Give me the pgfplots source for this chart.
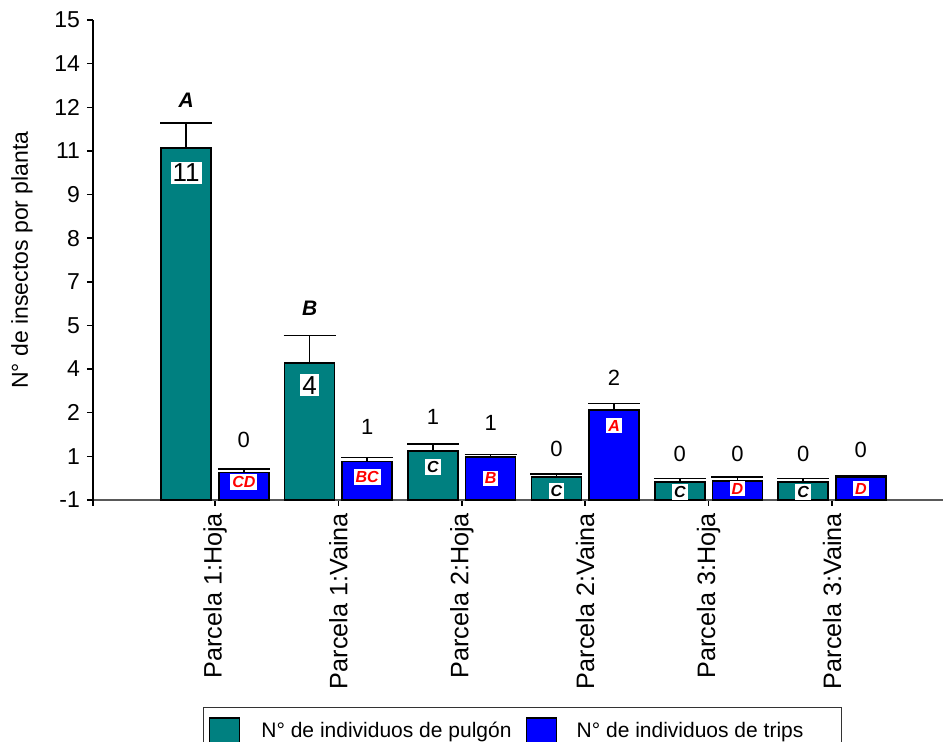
\documentclass[border=0pt]{standalone}
\usepackage{fontspec}
\setmainfont{Liberation Sans}
\usepackage{pgfplots}
\usepackage{pgfplotstable}
\pgfplotsset{compat=1.18}
\definecolor{tealbar}{RGB}{0,128,128}
\definecolor{bluebar}{RGB}{0,0,255}
\definecolor{redlet}{RGB}{255,0,0}

\pgfplotstableread{
x teal tealerr blue blueerr
0 10.74 0.82 -0.09 0.12
1 3.56 0.92 0.28 0.14
2 0.64 0.22 0.44 0.07
3 -0.24 0.11 2.00 0.21
4 -0.40 0.11 -0.37 0.13
5 -0.40 0.11 -0.23 0.05
}\datatable

\begin{document}
\begin{tikzpicture}
\begin{axis}[
  scale only axis, width=425pt, height=240pt,
  at={(0pt,0pt)}, anchor=south west,
  xmin=-0.9887, xmax=5.899, ymin=0, ymax=16,
  enlargelimits=false, clip=false,
  axis x line*=bottom, axis y line*=left,
  x axis line style={draw=black!65, line width=1pt},
  y axis line style={draw=black, line width=1pt, shorten <=-3pt},
  xtick={0,1,2,3,4,5},
  xticklabels={Parcela 1:Hoja, Parcela 1:Vaina, Parcela 2:Hoja, Parcela 2:Vaina, Parcela 3:Hoja, Parcela 3:Vaina},
  xticklabel style={rotate=90, anchor=east, font=\fontsize{12.6}{14}\selectfont},
  ytick={0,1.4545,2.9091,4.3636,5.8182,7.2727,8.7273,10.1818,11.6364,13.0909,14.5455,16},
  yticklabels={-1,1,2,4,5,7,8,9,11,12,14,15},
  yticklabel style={font=\fontsize{11.5}{13}\selectfont},
  tick align=outside, major tick length=3pt,
  tick style={black, line width=0.75pt},
  ylabel={N° de insectos por planta},
  ylabel style={at={(axis description cs:-0.0835,0.5)}, anchor=center, font=\fontsize{11.5}{13}\selectfont},
  ybar, bar width=25pt,
  legend columns=2,
  legend style={at={(0.129,-0.431)}, anchor=north west, draw=black!80, line width=0.6pt,
    font=\fontsize{10.5}{12}\selectfont, inner xsep=3pt, inner ysep=5pt,
    /tikz/every even column/.append style={column sep=5pt}},
  legend image code/.code={\draw[#1, line width=0.6pt] (0pt,-6.75pt) rectangle (15pt,6.75pt);},
  legend cell align=left,
]
\addplot[fill=tealbar, draw=black, line width=0.75pt, bar shift=-14.4pt,
  error bars/.cd, y dir=plus, y explicit,
  error bar style={black, line width=0.75pt},
  error mark options={rotate=90, black, line width=0.75pt, mark size=13pt}]
  table[x=x, y expr=\thisrow{teal}+1, y error=tealerr]{\datatable};
\addlegendentry{\hspace{8.5pt}N° de individuos de pulgón}
\addplot[fill=bluebar, draw=black, line width=0.75pt, bar shift=14.4pt,
  error bars/.cd, y dir=plus, y explicit,
  error bar style={black, line width=0.75pt},
  error mark options={rotate=90, black, line width=0.75pt, mark size=13pt}]
  table[x=x, y expr=\thisrow{blue}+1, y error=blueerr]{\datatable};
\addlegendentry{\hspace{8pt}N° de individuos de trips\rule{14pt}{0pt}}

% letters above teal bars / numbers inside
\node[font=\fontsize{10.5}{12}\selectfont\bfseries\itshape] at (axis cs:0,13.33) [xshift=-14.4pt] {A};
\node[font=\fontsize{13}{14}\selectfont, fill=white, inner sep=1pt] at (axis cs:0,10.9) [xshift=-14.4pt] {11};
\node[font=\fontsize{10.5}{12}\selectfont\bfseries\itshape] at (axis cs:1,6.4) [xshift=-14.4pt] {B};
\node[font=\fontsize{13}{14}\selectfont, fill=white, inner sep=1pt] at (axis cs:1,3.83) [xshift=-14.4pt] {4};
% numbers above
\node[font=\fontsize{11}{12}\selectfont] at (axis cs:0,2.0) [xshift=14.4pt] {0};
\node[font=\fontsize{11}{12}\selectfont] at (axis cs:1,2.43) [xshift=14.4pt] {1};
\node[font=\fontsize{11}{12}\selectfont] at (axis cs:2,2.77) [xshift=-14.4pt] {1};
\node[font=\fontsize{11}{12}\selectfont] at (axis cs:2,2.57) [xshift=14.4pt] {1};
\node[font=\fontsize{11}{12}\selectfont] at (axis cs:3,1.7) [xshift=-14.4pt] {0};
\node[font=\fontsize{11}{12}\selectfont] at (axis cs:3,4.07) [xshift=14.4pt] {2};
\node[font=\fontsize{11}{12}\selectfont] at (axis cs:4,1.53) [xshift=-14.4pt] {0};
\node[font=\fontsize{11}{12}\selectfont] at (axis cs:4,1.53) [xshift=14.4pt] {0};
\node[font=\fontsize{11}{12}\selectfont] at (axis cs:5,1.53) [xshift=-14.4pt] {0};
\node[font=\fontsize{11}{12}\selectfont] at (axis cs:5,1.67) [xshift=14.4pt] {0};
% letters inside bars
\node[font=\fontsize{8}{9}\selectfont\bfseries\itshape, text=redlet, fill=white, inner sep=1pt] at (axis cs:0,0.6) [xshift=14.4pt] {CD};
\node[font=\fontsize{8}{9}\selectfont\bfseries\itshape, text=redlet, fill=white, inner sep=1pt] at (axis cs:1,0.77) [xshift=14.4pt] {BC};
\node[font=\fontsize{8}{9}\selectfont\bfseries\itshape, fill=white, inner sep=1pt] at (axis cs:2,1.1) [xshift=-14.4pt] {C};
\node[font=\fontsize{8}{9}\selectfont\bfseries\itshape, text=redlet, fill=white, inner sep=1pt] at (axis cs:2,0.73) [xshift=14.4pt] {B};
\node[font=\fontsize{8}{9}\selectfont\bfseries\itshape, fill=white, inner sep=1pt] at (axis cs:3,0.3) [xshift=-14.4pt] {C};
\node[font=\fontsize{8}{9}\selectfont\bfseries\itshape, text=redlet, fill=white, inner sep=1pt] at (axis cs:3,2.47) [xshift=14.4pt] {A};
\node[font=\fontsize{8}{9}\selectfont\bfseries\itshape, fill=white, inner sep=1pt] at (axis cs:4,0.27) [xshift=-14.4pt] {C};
\node[font=\fontsize{8}{9}\selectfont\bfseries\itshape, text=redlet, fill=white, inner sep=1pt] at (axis cs:4,0.37) [xshift=14.4pt] {D};
\node[font=\fontsize{8}{9}\selectfont\bfseries\itshape, fill=white, inner sep=1pt] at (axis cs:5,0.27) [xshift=-14.4pt] {C};
\node[font=\fontsize{8}{9}\selectfont\bfseries\itshape, text=redlet, fill=white, inner sep=1pt] at (axis cs:5,0.37) [xshift=14.4pt] {D};
\end{axis}
\pgfresetboundingbox
\useasboundingbox (-46.5pt,-121pt) rectangle (425.5pt,250pt);
\end{tikzpicture}
\end{document}
